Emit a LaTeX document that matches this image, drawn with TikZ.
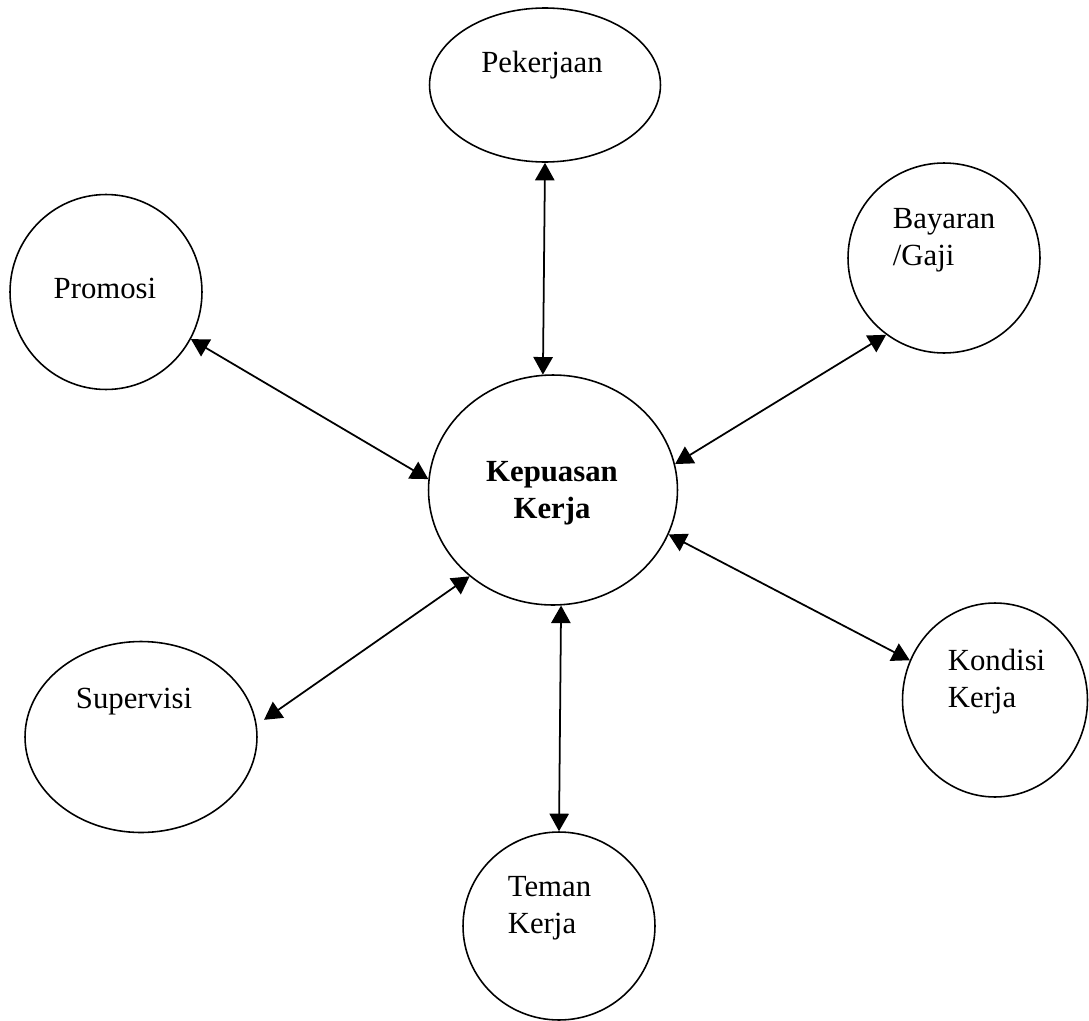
\documentclass[tikz,border=0pt]{standalone}
\usepackage{fontspec}
\setmainfont{Liberation Serif}
\usetikzlibrary{arrows.meta,shapes.geometric}

\begin{document}
\begin{tikzpicture}[x=0.02cm,y=-0.02cm,<->,>={Triangle[length=10pt,width=11pt]},line width=1pt,bubblenode/.style={ellipse,draw,line width=0.9pt,inner sep=0pt},labelnode/.style={inner sep=0pt,font=\fontsize{17.5}{21}\selectfont}]
		\useasboundingbox (0,0) rectangle (1089,1021);
		\node [bubblenode,minimum width=4.62cm,minimum height=3.08cm] (pek) at (545,85) {};
		\node [bubblenode,minimum width=3.84cm,minimum height=3.9cm] (prom) at (106,292) {};
		\node [bubblenode,minimum width=3.84cm,minimum height=3.8cm] (bay) at (944,258) {};
		\node [bubblenode,minimum width=4.98cm,minimum height=4.6cm] (kep) at (553,490) {};
		\node [bubblenode,minimum width=4.64cm,minimum height=3.82cm] (sup) at (141,737) {};
		\node [bubblenode,minimum width=3.7cm,minimum height=3.88cm] (kon) at (995,700) {};
		\node [bubblenode,minimum width=3.84cm,minimum height=3.76cm] (tem) at (559,926) {};
		\node [labelnode,anchor=base] (pekt) at (542,72) {Pekerjaan};
		\node [labelnode,anchor=base] (promt) at (105,298) {Promosi};
		\node [labelnode,anchor=base west,align=left] (bayt) at (892,265) {Bayaran\\/Gaji};
		\node [labelnode,anchor=base,align=center,font=\fontsize{17.5}{20.5}\selectfont\bfseries] (kept) at (552,518) {Kepuasan\\Kerja};
		\node [labelnode,anchor=base] (supt) at (134,708) {Supervisi};
		\node [labelnode,anchor=base west,align=left] (kont) at (947,707) {Kondisi\\Kerja};
		\node [labelnode,anchor=base west,align=left] (temt) at (507,933) {Teman\\Kerja};
		\draw (pek.270) to (kep.95);
		\draw (prom.-29) to (kep.175);
		\draw (bay.233) to (kep.12);
		\draw[shorten <=5pt] (sup.6) to (kep.226);
		\draw (kon.155) to (kep.-21);
		\draw (kep.-86) to (tem.90);
	\end{tikzpicture}
\end{document}
